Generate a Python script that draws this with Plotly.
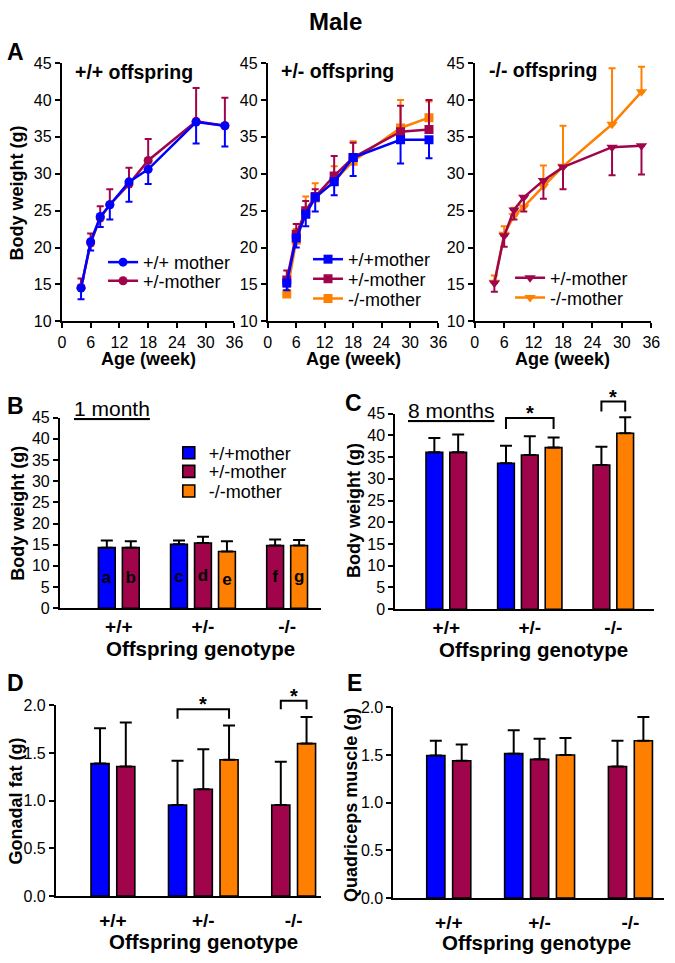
import plotly.graph_objects as go

W, H = 675, 963
FONT = "Liberation Sans, Arial, sans-serif"
BLUE = "#0000FF"
PURPLE = "#A0054B"
ORANGE = "#FF8000"

# ---- panel A: growth curves (mean, error length) ----
weeks = [4, 6, 8, 10, 14, 18, 28, 34]

wt_off_wtmom = [14.5, 20.8, 24.2, 25.8, 28.9, 30.6, 37.0, 36.5]
wt_off_wtmom_err = [1.5, 1.2, 1.4, 2.0, 2.7, 2.0, 2.9, 2.8]
wt_off_hetmom = [14.6, 20.6, 24.0, 25.8, 28.6, 31.8, 37.1, 36.5]
wt_off_hetmom_err = [1.2, 1.3, 1.6, 2.1, 2.2, 2.9, 4.5, 3.8]

het_off_wtmom = [15.2, 21.3, 24.5, 26.8, 28.9, 32.2, 34.6, 34.6]
het_off_wtmom_err = [1.0, 1.3, 1.6, 1.9, 1.8, 2.5, 3.2, 2.5]
het_off_hetmom = [15.6, 21.8, 25.0, 26.9, 29.7, 32.2, 35.7, 36.0]
het_off_hetmom_err = [1.3, 1.4, 1.3, 1.0, 2.7, 2.0, 3.5, 4.0]
het_off_komom = [13.7, 21.0, 24.6, 26.7, 29.0, 31.7, 36.2, 37.6]
het_off_komom_err = [1.0, 1.5, 2.3, 2.0, 2.0, 2.7, 3.8, 2.2]

ko_off_hetmom = [15.2, 21.6, 25.1, 26.8, 29.1, 30.9, 33.6, 33.8]
ko_off_hetmom_err = [1.2, 1.5, 1.3, 1.9, 2.5, 3.0, 3.8, 3.9]
ko_off_komom = [15.3, 21.8, 24.3, 25.5, 28.3, 31.0, 36.7, 41.1]
ko_off_komom_err = [0.9, 1.1, 1.1, 1.5, 2.8, 5.5, 7.6, 3.4]

# ---- panels B-E: bars per mother genotype, across offspring genotype ----
genotypes = ["+/+", "+/-", "-/-"]
mothers = ["+/+mother", "+/-mother", "-/-mother"]

bw_1m = [[14.3, 15.1, None], [14.3, 15.4, 14.8], [None, 13.4, 14.8]]
bw_1m_err = [[1.7, 0.9, None], [1.5, 1.5, 1.4], [None, 2.4, 1.3]]
bw_1m_letters = [["a", "c", None], ["b", "d", "f"], [None, "e", "g"]]

bw_8m = [[36.1, 33.6, None], [36.1, 35.5, 33.2], [None, 37.2, 40.5]]
bw_8m_err = [[3.3, 4.0, None], [4.1, 4.3, 4.2], [None, 2.3, 3.7]]

gonadal_fat = [[1.39, 0.955, None], [1.36, 1.12, 0.955], [None, 1.43, 1.60]]
gonadal_fat_err = [[0.37, 0.465, None], [0.46, 0.42, 0.455], [None, 0.36, 0.28]]

quadriceps = [[1.495, 1.515, None], [1.44, 1.455, 1.38], [None, 1.50, 1.65]]
quadriceps_err = [[0.155, 0.245, None], [0.17, 0.215, 0.27], [None, 0.18, 0.25]]

# significance brackets: (offspring group, mother a, mother b, bracket level, tick bottom)
sig_8m = [(1, 0, 2, 44.0, 41.5), (2, 1, 2, 47.8, 45.5)]
sig_fat = [(1, 0, 2, 1.96, 1.86), (2, 1, 2, 2.05, 1.96)]

BAR_STEP = 0.285
BAR_W = 0.2


def hx(px):
    return px / W


def vy(py):
    return 1 - py / H


# subplot frames in pixels: x (left, right), y (bottom, top)
panels = [
    dict(x=(59, 235), y=(319, 56), xr=[0, 36], yr=[10, 45]),
    dict(x=(269, 443), y=(319, 56), xr=[0, 36], yr=[10, 45]),
    dict(x=(480, 660), y=(319, 56), xr=[0, 36], yr=[10, 45]),
    dict(x=(57, 323), y=(611, 417), xr=[-0.70, 2.40], yr=[0, 45]),
    dict(x=(399, 663), y=(612, 413), xr=[-0.61, 2.49], yr=[0, 45]),
    dict(x=(53, 323), y=(904, 710), xr=[-0.63, 2.30], yr=[0, 2]),
    dict(x=(397, 673), y=(906, 712), xr=[-0.61, 2.37], yr=[0, 2]),
]


def suffix(i):
    return "" if i == 0 else str(i + 1)


def to_paper(i, xv, yv):
    p = panels[i]
    x0, x1 = hx(p["x"][0]), hx(p["x"][1])
    y0, y1 = vy(p["y"][0]), vy(p["y"][1])
    px = x0 + (xv - p["xr"][0]) / (p["xr"][1] - p["xr"][0]) * (x1 - x0)
    py = y0 + (yv - p["yr"][0]) / (p["yr"][1] - p["yr"][0]) * (y1 - y0)
    return px, py


def bar_x(means, g, m):
    present = [k for k in range(3) if means[k][g] is not None]
    return g + (present.index(m) - (len(present) - 1) / 2) * BAR_STEP


fig = go.Figure()
legends = {}
legend_count = [0]


def new_legend(px, py):
    legend_count[0] += 1
    key = "legend" if legend_count[0] == 1 else f"legend{legend_count[0]}"
    legends[key] = dict(
        x=hx(px), y=vy(py), xanchor="left", yanchor="middle",
        bgcolor="rgba(0,0,0,0)", borderwidth=0, itemwidth=30,
        font=dict(family=FONT, size=18, color="black"),
    )
    return key


# growth curves: (subplot, label, colour, symbol, means, errors, direction, legend text position)
curves = [
    (0, "+/-mother", PURPLE, "circle", wt_off_hetmom, wt_off_hetmom_err, "up", (143, 278)),
    (0, "+/+ mother", BLUE, "circle", wt_off_wtmom, wt_off_wtmom_err, "down", (143, 259)),
    (1, "-/-mother", ORANGE, "square", het_off_komom, het_off_komom_err, "up", (352, 296)),
    (1, "+/-mother", PURPLE, "square", het_off_hetmom, het_off_hetmom_err, "up", (352, 276)),
    (1, "+/+mother", BLUE, "square", het_off_wtmom, het_off_wtmom_err, "down", (352, 256)),
    (2, "-/-mother", ORANGE, "triangle-down", ko_off_komom, ko_off_komom_err, "up", (558, 295)),
    (2, "+/-mother", PURPLE, "triangle-down", ko_off_hetmom, ko_off_hetmom_err, "down", (558, 275)),
]

for sp, label, color, symbol, means, errs, direction, (lx, ly) in curves:
    zeros = [0] * len(errs)
    fig.add_trace(go.Scatter(
        x=weeks, y=means, name=label, mode="lines+markers",
        line=dict(color=color, width=2.5),
        marker=dict(color=color, symbol=symbol, size=9 if symbol != "triangle-down" else 10),
        error_y=dict(type="data", symmetric=False,
                     array=errs if direction == "up" else zeros,
                     arrayminus=errs if direction == "down" else zeros,
                     color=color, thickness=2, width=3.5),
        xaxis="x" + suffix(sp), yaxis="y" + suffix(sp),
        legend=new_legend(lx - 42, ly),
    ))

bar_panels = [
    (3, bw_1m, bw_1m_err, bw_1m_letters),
    (4, bw_8m, bw_8m_err, None),
    (5, gonadal_fat, gonadal_fat_err, None),
    (6, quadriceps, quadriceps_err, None),
]
bar_colors = [BLUE, PURPLE, ORANGE]
bar_legend_pos = [(210, 453), (210, 472), (210, 492)]

for sp, means, errs, letters in bar_panels:
    for m in range(3):
        xs, ys, es, ts = [], [], [], []
        for g in range(3):
            if means[m][g] is None:
                continue
            xs.append(bar_x(means, g, m))
            ys.append(means[m][g])
            es.append(errs[m][g])
            ts.append(f"<b>{letters[m][g]}</b>" if letters else "")
        show = sp == 3
        fig.add_trace(go.Bar(
            x=xs, y=ys, width=BAR_W, name=mothers[m],
            marker=dict(color=bar_colors[m], line=dict(color="black", width=1.6)),
            error_y=dict(type="data", symmetric=False, array=es, arrayminus=[0] * len(es),
                         color="black", thickness=2, width=6),
            text=ts, textposition="inside", insidetextanchor="middle", textangle=0,
            constraintext="none",
            textfont=dict(family=FONT, size=17, color="black"),
            xaxis="x" + suffix(sp), yaxis="y" + suffix(sp),
            showlegend=show,
            legend=new_legend(bar_legend_pos[m][0] - 42, bar_legend_pos[m][1]) if show else None,
        ))

# axes
axis_style = dict(
    showline=True, linecolor="black", linewidth=2, showgrid=False, zeroline=False,
    ticks="outside", ticklen=5, tickwidth=2, tickcolor="black",
    tickfont=dict(family=FONT, size=16, color="black"),
)
axes = {}
for i, p in enumerate(panels):
    s = suffix(i)
    xa = dict(axis_style, domain=[hx(p["x"][0]), hx(p["x"][1])], range=p["xr"], anchor="y" + s)
    ya = dict(axis_style, domain=[vy(p["y"][0]), vy(p["y"][1])], range=p["yr"], anchor="x" + s)
    if i < 3:
        xa.update(tickvals=list(range(0, 37, 6)))
        ya.update(tickvals=list(range(10, 46, 5)))
    else:
        xa.update(tickvals=[0, 1, 2], ticktext=[f"<b>{g}</b>" for g in genotypes], ticks="",
                  tickfont=dict(family=FONT, size=19, color="black"),
                  ticklabelstandoff=0 if i < 5 else 6)
        if i < 5:
            ya.update(tickvals=list(range(0, 46, 5)))
        else:
            ya.update(tickvals=[0, 0.5, 1.0, 1.5, 2.0], tickformat=".1f")
    axes["xaxis" + s] = xa
    axes["yaxis" + s] = ya


def note(text, px, py, size, bold=False, xanchor="center", angle=0):
    return dict(
        text=f"<b>{text}</b>" if bold else text, x=hx(px), y=vy(py),
        xref="paper", yref="paper", showarrow=False, xanchor=xanchor, yanchor="middle",
        textangle=angle, font=dict(family=FONT, size=size, color="black"),
    )


annotations = [
    note("Male", 338, 14, 24, bold=True),
    note("A", 12, 45, 23, bold=True),
    note("B", 12, 405, 23, bold=True),
    note("C", 356, 402, 23, bold=True),
    note("D", 12, 687, 23, bold=True),
    note("E", 357, 687, 23, bold=True),
    note("+/+ offspring", 70, 65, 19.5, bold=True, xanchor="left"),
    note("+/- offspring", 280, 64, 19.5, bold=True, xanchor="left"),
    note("-/- offspring", 492, 63, 19.5, bold=True, xanchor="left"),
    note("Age (week)", 147, 357, 18, bold=True),
    note("Age (week)", 356, 357, 18, bold=True),
    note("Age (week)", 569, 357, 18, bold=True),
    note("Body weight (g)", 13, 188, 18, bold=True, angle=-90),
    note("Body weight (g)", 14, 514, 18, bold=True, angle=-90),
    note("Body weight (g)", 357, 512, 18, bold=True, angle=-90),
    note("Gonadal fat (g)", 12, 807, 18, bold=True, angle=-90),
    note("Quadriceps muscle (g)", 353, 811, 18, bold=True, angle=-90),
    note("<u>1 month</u>", 110, 408, 21),
    note("<u>8 months</u>", 456, 410, 21),
    note("Offspring genotype", 200, 652, 20.5, bold=True),
    note("Offspring genotype", 540, 653, 20.5, bold=True),
    note("Offspring genotype", 203, 950, 20.5, bold=True),
    note("Offspring genotype", 543, 951, 20.5, bold=True),
]

shapes = []
for sp, means, sigs in [(4, bw_8m, sig_8m), (5, gonadal_fat, sig_fat)]:
    for g, ma, mb, level, bottom in sigs:
        xa_p, yb_p = to_paper(sp, bar_x(means, g, ma), bottom)
        xb_p, yl_p = to_paper(sp, bar_x(means, g, mb), level)
        shapes.append(dict(
            type="path", xref="paper", yref="paper",
            path=f"M{xa_p},{yb_p} L{xa_p},{yl_p} L{xb_p},{yl_p} L{xb_p},{yb_p}",
            line=dict(color="black", width=2),
        ))
        annotations.append(dict(
            text="<b>*</b>", x=(xa_p + xb_p) / 2, y=yl_p, xref="paper", yref="paper",
            showarrow=False, xanchor="center", yanchor="bottom", yshift=-8,
            font=dict(family=FONT, size=20, color="black"),
        ))

fig.update_layout(
    width=W, height=H, margin=dict(l=0, r=0, t=0, b=0),
    paper_bgcolor="white", plot_bgcolor="white", barmode="overlay",
    annotations=annotations, shapes=shapes, **axes, **legends,
)

fig.write_html("out.html", config={"displayModeBar": False},
               post_script="document.body.style.margin = '0';")
